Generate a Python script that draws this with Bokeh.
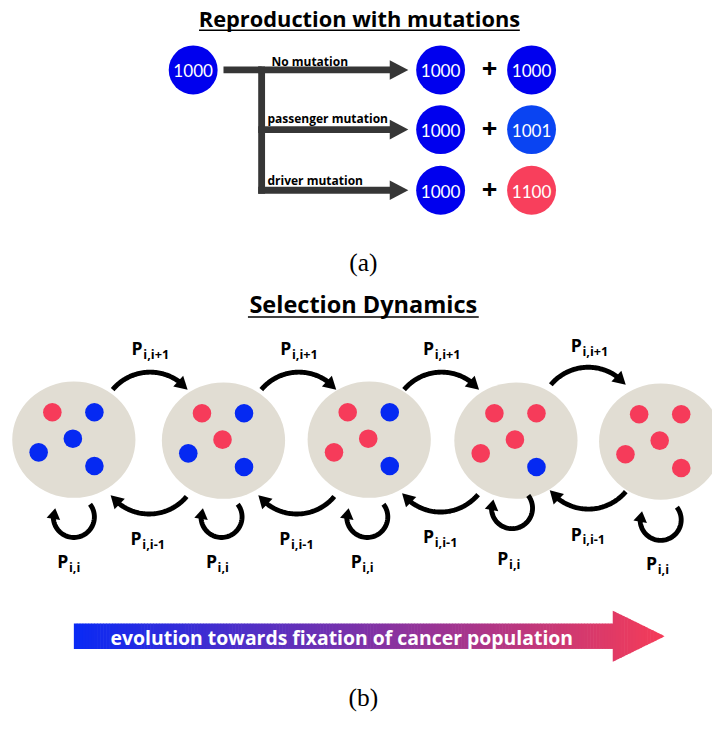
import numpy as np
from bokeh.plotting import figure
from bokeh.models import Range1d
from bokeh.core.properties import value
from bokeh.embed import file_html
from bokeh.resources import INLINE

# ---------------- data ----------------
title_a = "Reproduction with mutations"
title_b = "Selection Dynamics"
parent_label = "1000"
branch_labels = ["No mutation", "passenger mutation", "driver mutation"]
child_left_labels = ["1000", "1000", "1000"]
child_right_labels = ["1000", "1001", "1100"]
child_right_kind = ["wild", "passenger", "driver"]
# disc states: cells in order top-left, top-right, centre, left, bottom-right
disc_states = [
    ["R", "B", "B", "B", "B"],
    ["R", "B", "R", "B", "B"],
    ["R", "B", "R", "R", "B"],
    ["R", "R", "R", "R", "B"],
    ["R", "R", "R", "R", "R"],
]
forward_sub = "i,i+1"
backward_sub = "i,i-1"
stay_sub = "i,i"
arrow_text = "evolution towards fixation of cancer population"
caption_a = "(a)"
caption_b = "(b)"

# ---------------- styles ----------------
W, H = 712, 713
S = W / 728.0
BOLD = value("Open Sans")
NUM = value("Lato")
SERIF = value("Liberation Serif")
BLUE = "#0000ee"
BLUE_P = "#0a44f2"
RED = "#f83f5c"
DOT_BLUE = "#0529f2"
DOT_RED = "#f63b5a"
BEIGE = "#e1ddd3"
GRAY = "#363636"
kind_color = {"wild": BLUE, "passenger": BLUE_P, "driver": RED}
dot_color = {"B": DOT_BLUE, "R": DOT_RED}

p = figure(width=W, height=H, x_range=Range1d(0, 728), y_range=Range1d(729, 0),
           output_backend="svg", toolbar_location=None, min_border=0,
           x_axis_location=None, y_axis_location=None)
p.grid.visible = False
p.outline_line_color = None
p.background_fill_color = "white"
p.border_fill_color = "white"


def fs(n):
    return value("%.1fpx" % (n * S))


def txt(x, y, t, size, color="black", bold=False, align="center", baseline="middle", font=BOLD):
    p.text(x=x, y=y, text=t, text_font=font, text_font_size=fs(size),
           text_font_style="bold" if bold else "normal", text_color=color,
           text_align=align, text_baseline=baseline)


# ---------------- panel (a) ----------------
txt([367], [18], [title_a], 22.3, bold=True)
p.line([203, 531], [30.5, 30.5], line_color="black", line_width=1.5 * S)

row_y = [71, 132, 194]
px, pr = 197, 25
p.circle([px], [row_y[0]], radius=pr, fill_color=BLUE, line_color=None)
txt([px], [row_y[0] + 1], [parent_label], 17.5, color="white", font=NUM)

# branching arrows
bar_h = 7
trunk_x = 267
head_base, head_tip, head_half = 398, 417, 10
p.quad(left=[228], right=[trunk_x], top=[row_y[0] - bar_h / 2], bottom=[row_y[0] + bar_h / 2],
       fill_color=GRAY, line_color=None)
p.quad(left=[trunk_x - bar_h / 2], right=[trunk_x + bar_h / 2], top=[row_y[0] - bar_h / 2],
       bottom=[row_y[-1] + bar_h / 2], fill_color=GRAY, line_color=None)
p.quad(left=[trunk_x - bar_h / 2] * 3, right=[head_base + 1] * 3,
       top=[y - bar_h / 2 for y in row_y], bottom=[y + bar_h / 2 for y in row_y],
       fill_color=GRAY, line_color=None)
p.patches(xs=[[head_base, head_tip, head_base] for _ in row_y],
          ys=[[y - head_half, y, y + head_half] for y in row_y],
          fill_color=GRAY, line_color=None)
label_x = [277, 273, 273]
label_dy = [-9, -11, -10]
txt(label_x, [y + d for y, d in zip(row_y, label_dy)], branch_labels, 12.3, bold=True, align="left")

cl_x, cr_x, plus_x = 450, 543, 500
p.circle([cl_x] * 3, row_y, radius=25, fill_color=BLUE, line_color=None)
p.circle([cr_x] * 3, row_y, radius=25, fill_color=[kind_color[k] for k in child_right_kind], line_color=None)
txt([cl_x] * 3, [y + 1 for y in row_y], child_left_labels, 17.5, color="white", font=NUM)
txt([cr_x] * 3, [y + 1 for y in row_y], child_right_labels, 17.5, color="white", font=NUM)
txt([plus_x] * 3, [y - 1 for y in row_y], ["+"] * 3, 28, bold=True)

txt([371], [267], [caption_a], 26, font=SERIF)

# ---------------- panel (b) ----------------
txt([371], [310], [title_b], 24, bold=True)
p.line([253, 489], [323.5, 323.5], line_color="black", line_width=1.5 * S)

disc_x = [75, 228, 377, 527, 675]
disc_y = [449, 450, 449, 450, 451]
p.ellipse(disc_x, disc_y, width=126, height=119, fill_color=BEIGE, line_color=None)
cell_dx = [-22, 21, -1, -36, 21]
cell_dy = [-28, -28, -1, 13, 27]
cx, cy, cc = [], [], []
for dx0, dy0, st in zip(disc_x, disc_y, disc_states):
    for ddx, ddy, s in zip(cell_dx, cell_dy, st):
        cx.append(dx0 + ddx)
        cy.append(dy0 + ddy)
        cc.append(dot_color[s])
p.circle(cx, cy, radius=9.5, fill_color=cc, line_color=None)


def arc_arrow(cxa, cya, r, a0, a1, hl=13, hw=15, lw=5):
    sgn = 1 if a1 > a0 else -1
    stop = a1 - sgn * np.degrees(hl * 0.8 / r)
    th = np.radians(np.linspace(a0, stop, 60))
    p.line(cxa + r * np.cos(th), cya + r * np.sin(th), line_color="black", line_width=lw * S)
    t1 = np.radians(a1)
    tx, ty = cxa + r * np.cos(t1), cya + r * np.sin(t1)
    tb = np.radians(a1 - sgn * np.degrees(hl / r))
    bx, by = cxa + r * np.cos(tb), cya + r * np.sin(tb)
    dx, dy = tx - bx, ty - by
    n = np.hypot(dx, dy)
    dx, dy = dx / n, dy / n
    bx, by = tx - hl * dx, ty - hl * dy
    nx, ny = -dy, dx
    p.patch([tx, bx + nx * hw / 2, bx - nx * hw / 2], [ty, by + ny * hw / 2, by - ny * hw / 2],
            fill_color="black", line_color=None)


top_cx = [153, 305, 451, 601]
top_cy = [430, 430, 430, 425]
bot_cx = [152, 303, 450, 601]
bot_cy = [475, 475, 473, 470]
for x0, y0 in zip(top_cx, top_cy):
    arc_arrow(x0, y0, 50, -140, -40)
for x0, y0 in zip(bot_cx, bot_cy):
    arc_arrow(x0, y0, 50, 40, 142)

loop_x = [75, 226, 375, 523, 675]
loop_y = [528, 528, 528, 519, 531]
for x0, y0 in zip(loop_x, loop_y):
    arc_arrow(x0, y0, 21, -38, 205, hl=11, hw=14, lw=5)


def plabel(xl, yl, sub):
    txt(xl, yl, ["P"] * len(xl), 18, bold=True, align="left")
    txt([x + 12 for x in xl], [y + 6 for y in yl], [sub] * len(xl), 13, bold=True, align="left")


plabel([134, 286, 432, 583], [355, 355, 355, 352], forward_sub)
plabel([133, 285, 432, 583], [550, 550, 548, 545], backward_sub)
plabel([58, 210, 358, 508, 660], [573, 573, 573, 570, 575], stay_sub)

# gradient arrow
c0 = np.array([10, 42, 245])
c1 = np.array([246, 60, 88])
bar_l, bar_r, bar_t, bar_b = 75, 626, 637, 663
ah_t, ah_b, ah_tip, ah_mid = 624, 676, 679, 650


def grad(x):
    f = (x - bar_l) / (ah_tip - bar_l)
    c = (c0 + (c1 - c0) * f).astype(int)
    return "#%02x%02x%02x" % tuple(c)


edges = np.arange(bar_l, bar_r + 0.1, 3.0)
if edges[-1] < bar_r:
    edges = np.append(edges, bar_r)
p.quad(left=edges[:-1], right=edges[1:] + 0.6, top=bar_t, bottom=bar_b,
       fill_color=[grad((a + b) / 2) for a, b in zip(edges[:-1], edges[1:])], line_color=None)
hedges = np.linspace(bar_r, ah_tip, 19)
hx, hy, hc = [], [], []
for a, b in zip(hedges[:-1], hedges[1:]):
    ha = (ah_b - ah_t) / 2 * (ah_tip - a) / (ah_tip - bar_r)
    hb = (ah_b - ah_t) / 2 * (ah_tip - b) / (ah_tip - bar_r)
    b2 = min(b + 0.6, ah_tip)
    hx.append([a, b2, b2, a])
    hy.append([ah_mid - ha, ah_mid - hb, ah_mid + hb, ah_mid + ha])
    hc.append(grad((a + b) / 2))
p.patches(xs=hx, ys=hy, fill_color=hc, line_color=None)
txt([349], [651], [arrow_text], 19.8, color="white", bold=True)

txt([371], [712], [caption_b], 26, font=SERIF)

open("out.html", "w").write(file_html(p, INLINE))
